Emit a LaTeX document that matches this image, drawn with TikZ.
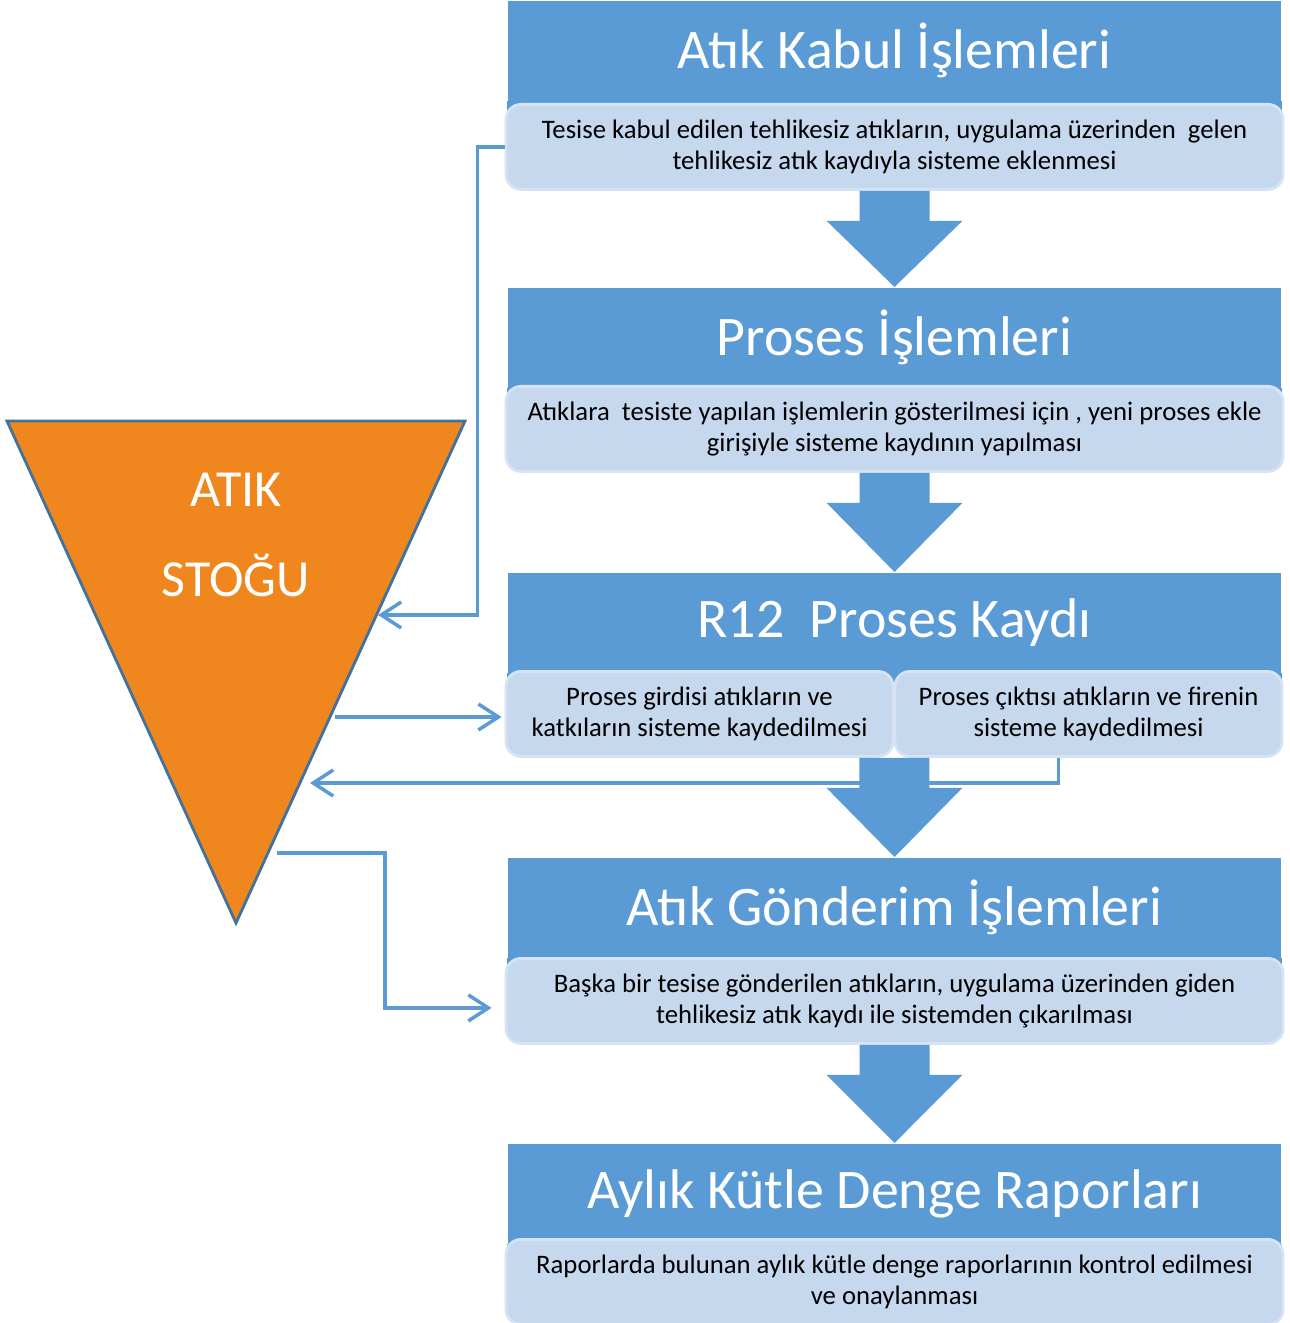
\documentclass[tikz,border=0pt]{standalone}
\usepackage{fontspec}
\setmainfont{Carlito}
\usetikzlibrary{arrows.meta,calc}

\definecolor{kutumavi}{HTML}{5B9BD5}
\definecolor{acikmavi}{HTML}{C6D8EE}
\definecolor{acikkenar}{HTML}{D6E3F3}
\definecolor{stokturuncu}{HTML}{F0871E}
\definecolor{stokkenar}{HTML}{41719C}

\tikzset{
  baslik/.style={fill=kutumavi, text=white, anchor=north, minimum width=7.73cm,
    minimum height=1.0cm, inner sep=0pt, font=\fontsize{15.9}{18}\selectfont},
  aciklama/.style={fill=acikmavi, draw=acikkenar, line width=0.8pt, rounded corners=0.15cm,
    anchor=north, minimum width=7.77cm, minimum height=0.85cm, inner sep=1pt,
    align=center, font=\fontsize{7.6}{8.8}\selectfont},
  yarim/.style={aciklama, minimum width=3.87cm},
  baglanti/.style={draw=kutumavi, line width=1pt, -{Straight Barb[length=2mm,width=2.6mm]}}
}

% big block arrow between two steps
\newcommand{\blokok}[2]{%
  \fill[kutumavi] ($#1+(-0.35,0)$) -- ($#1+(0.35,0)$) -- ($#1+(0.35,-0.3)$)
    -- ($#1+(0.68,-0.3)$) -- #2 -- ($#1+(-0.68,-0.3)$) -- ($#1+(-0.35,-0.3)$) -- cycle;}

\begin{document}
\begin{tikzpicture}
\useasboundingbox (0,0) rectangle (12.89,-13.23);

% steps
\node[baslik] (baslik1) at (8.945,0) {Atık Kabul İşlemleri};
\node[baslik] (baslik2) at (8.945,-2.87) {Proses İşlemleri};
\node[baslik] (baslik3) at (8.945,-5.72) {R12~ Proses Kaydı};
\node[baslik] (baslik4) at (8.945,-8.57) {Atık Gönderim İşlemleri};
\node[baslik] (baslik5) at (8.945,-11.43) {Aylık Kütle Denge Raporları};

\fill[kutumavi] (baslik1.south west) rectangle (baslik1.south east |- 0,-1.45);
\fill[kutumavi] (baslik2.south west) rectangle (baslik2.south east |- 0,-4.28);
\fill[kutumavi] (baslik3.south west) rectangle (baslik3.south east |- 0,-7.13);
\fill[kutumavi] (baslik4.south west) rectangle (baslik4.south east |- 0,-9.99);
\fill[kutumavi] (baslik5.south west) rectangle (baslik5.south east |- 0,-12.80);

\node[aciklama] (acik1) at (8.945,-1.03) {Tesise kabul edilen tehlikesiz atıkların, uygulama üzerinden~ gelen\\tehlikesiz atık kaydıyla sisteme eklenmesi};
\node[aciklama] (acik2) at (8.945,-3.85) {Atıklara~ tesiste yapılan işlemlerin gösterilmesi için , yeni proses ekle\\girişiyle sisteme kaydının yapılması};
\node[yarim] (girdi) at (6.995,-6.70) {Proses girdisi atıkların ve\\katkıların sisteme kaydedilmesi};
\node[yarim] (cikti) at (10.885,-6.70) {Proses çıktısı atıkların ve firenin\\sisteme kaydedilmesi};
\node[aciklama] (acik4) at (8.945,-9.57) {Başka bir tesise gönderilen atıkların, uygulama üzerinden giden\\tehlikesiz atık kaydı ile sistemden çıkarılması};
\node[aciklama] (acik5) at (8.945,-12.38) {Raporlarda bulunan aylık kütle denge raporlarının kontrol edilmesi\\ve onaylanması};

% stock
\filldraw[fill=stokturuncu, draw=stokkenar, line width=0.8pt] (0.07,-4.21) -- (4.65,-4.21) -- (2.36,-9.23) -- cycle;
\node[text=white, align=center, font=\fontsize{14.8}{25.6}\selectfont] (stok) at (2.36,-5.35) {ATIK\\STOĞU};
\coordinate (stokA) at (3.78,-6.15);
\coordinate (stokB) at (3.35,-7.17);
\coordinate (stokC) at (3.10,-7.83);
\coordinate (stokD) at (2.77,-8.53);

\draw[baglanti] (acik1.west) -- ++(-0.27,0) |- (stokA);
\draw[baglanti] (stokB) -- ([xshift=-0.03cm]girdi.west |- stokB);
\draw[baglanti] ([xshift=-0.3cm]cikti.south) |- (stokC);
\draw[baglanti] (stokD) -- ++(1.08,0) |- ([xshift=-0.13cm,yshift=-0.07cm]acik4.west);

\blokok{(acik1.south)}{(baslik2.north)}
\blokok{(acik2.south)}{(baslik3.north)}
\blokok{(girdi.south east)}{(baslik4.north)}
\blokok{(acik4.south)}{(baslik5.north)}
\end{tikzpicture}
\end{document}
